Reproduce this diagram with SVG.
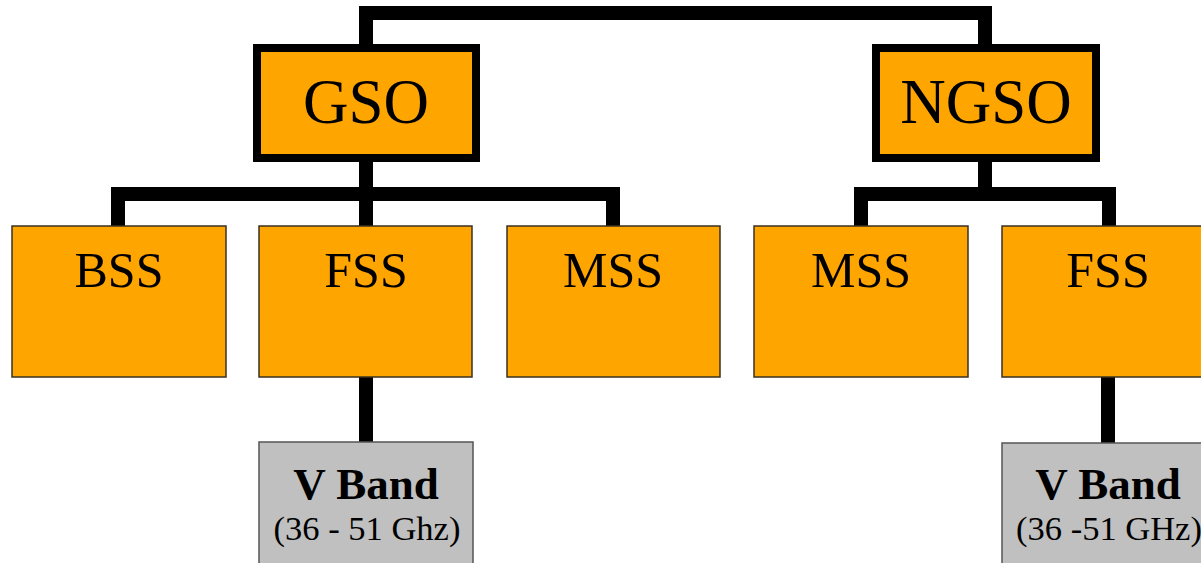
<svg xmlns="http://www.w3.org/2000/svg" width="1201" height="563" viewBox="0 0 1201 563">
<style>
.conn{fill:none;stroke:#000;stroke-width:14;stroke-linejoin:miter;stroke-linecap:butt}
.top{fill:#FFA500;stroke:#000;stroke-width:8}
.box{fill:#FFA500;stroke:#3a3020;stroke-width:1.5}
.band{fill:#C0C0C0;stroke:#555;stroke-width:1.5}
text{font-family:"Liberation Serif","Times New Roman",serif;fill:#000;text-anchor:middle}
.t1{font-size:63px}
.t2{font-size:50px}
.t3{font-size:45px;font-weight:bold}
.t4{font-size:34.5px}
</style>
<rect width="1201" height="563" fill="#fff"/>
<g id="connectors">
<path class="conn" d="M366 44 V13 H985 V44"/>
<path class="conn" d="M366 162 V226"/>
<path class="conn" d="M118 226 V194 H613 V226"/>
<path class="conn" d="M985 162 V194"/>
<path class="conn" d="M861 226 V194 H1109 V226"/>
<path class="conn" d="M366 377 V442"/>
<path class="conn" d="M1108 377 V443"/>
</g>
<g id="gso"><rect class="top" x="257" y="48" width="219" height="110"/><text class="t1" x="366" y="123">GSO</text></g>
<g id="ngso"><rect class="top" x="876" y="48" width="220" height="110"/><text class="t1" x="986" y="123">NGSO</text></g>
<g id="bss"><rect class="box" x="12" y="226" width="214" height="151"/><text class="t2" x="119" y="287">BSS</text></g>
<g id="fss1"><rect class="box" x="259" y="226" width="213" height="151"/><text class="t2" x="366" y="287">FSS</text></g>
<g id="mss1"><rect class="box" x="507" y="226" width="213" height="151"/><text class="t2" x="613" y="287">MSS</text></g>
<g id="mss2"><rect class="box" x="754" y="226" width="214" height="151"/><text class="t2" x="861" y="287">MSS</text></g>
<g id="fss2"><rect class="box" x="1002" y="226" width="214" height="151"/><text class="t2" x="1108" y="287">FSS</text></g>
<g id="vband1"><rect class="band" x="259" y="442" width="214" height="130"/><text class="t3" x="366" y="499">V Band</text><text class="t4" x="367" y="540">(36 - 51 Ghz)</text></g>
<g id="vband2"><rect class="band" x="1002" y="443" width="214" height="130"/><text class="t3" x="1108" y="499">V Band</text><text class="t4" x="1109" y="540">(36 -51 GHz)</text></g>
</svg>
